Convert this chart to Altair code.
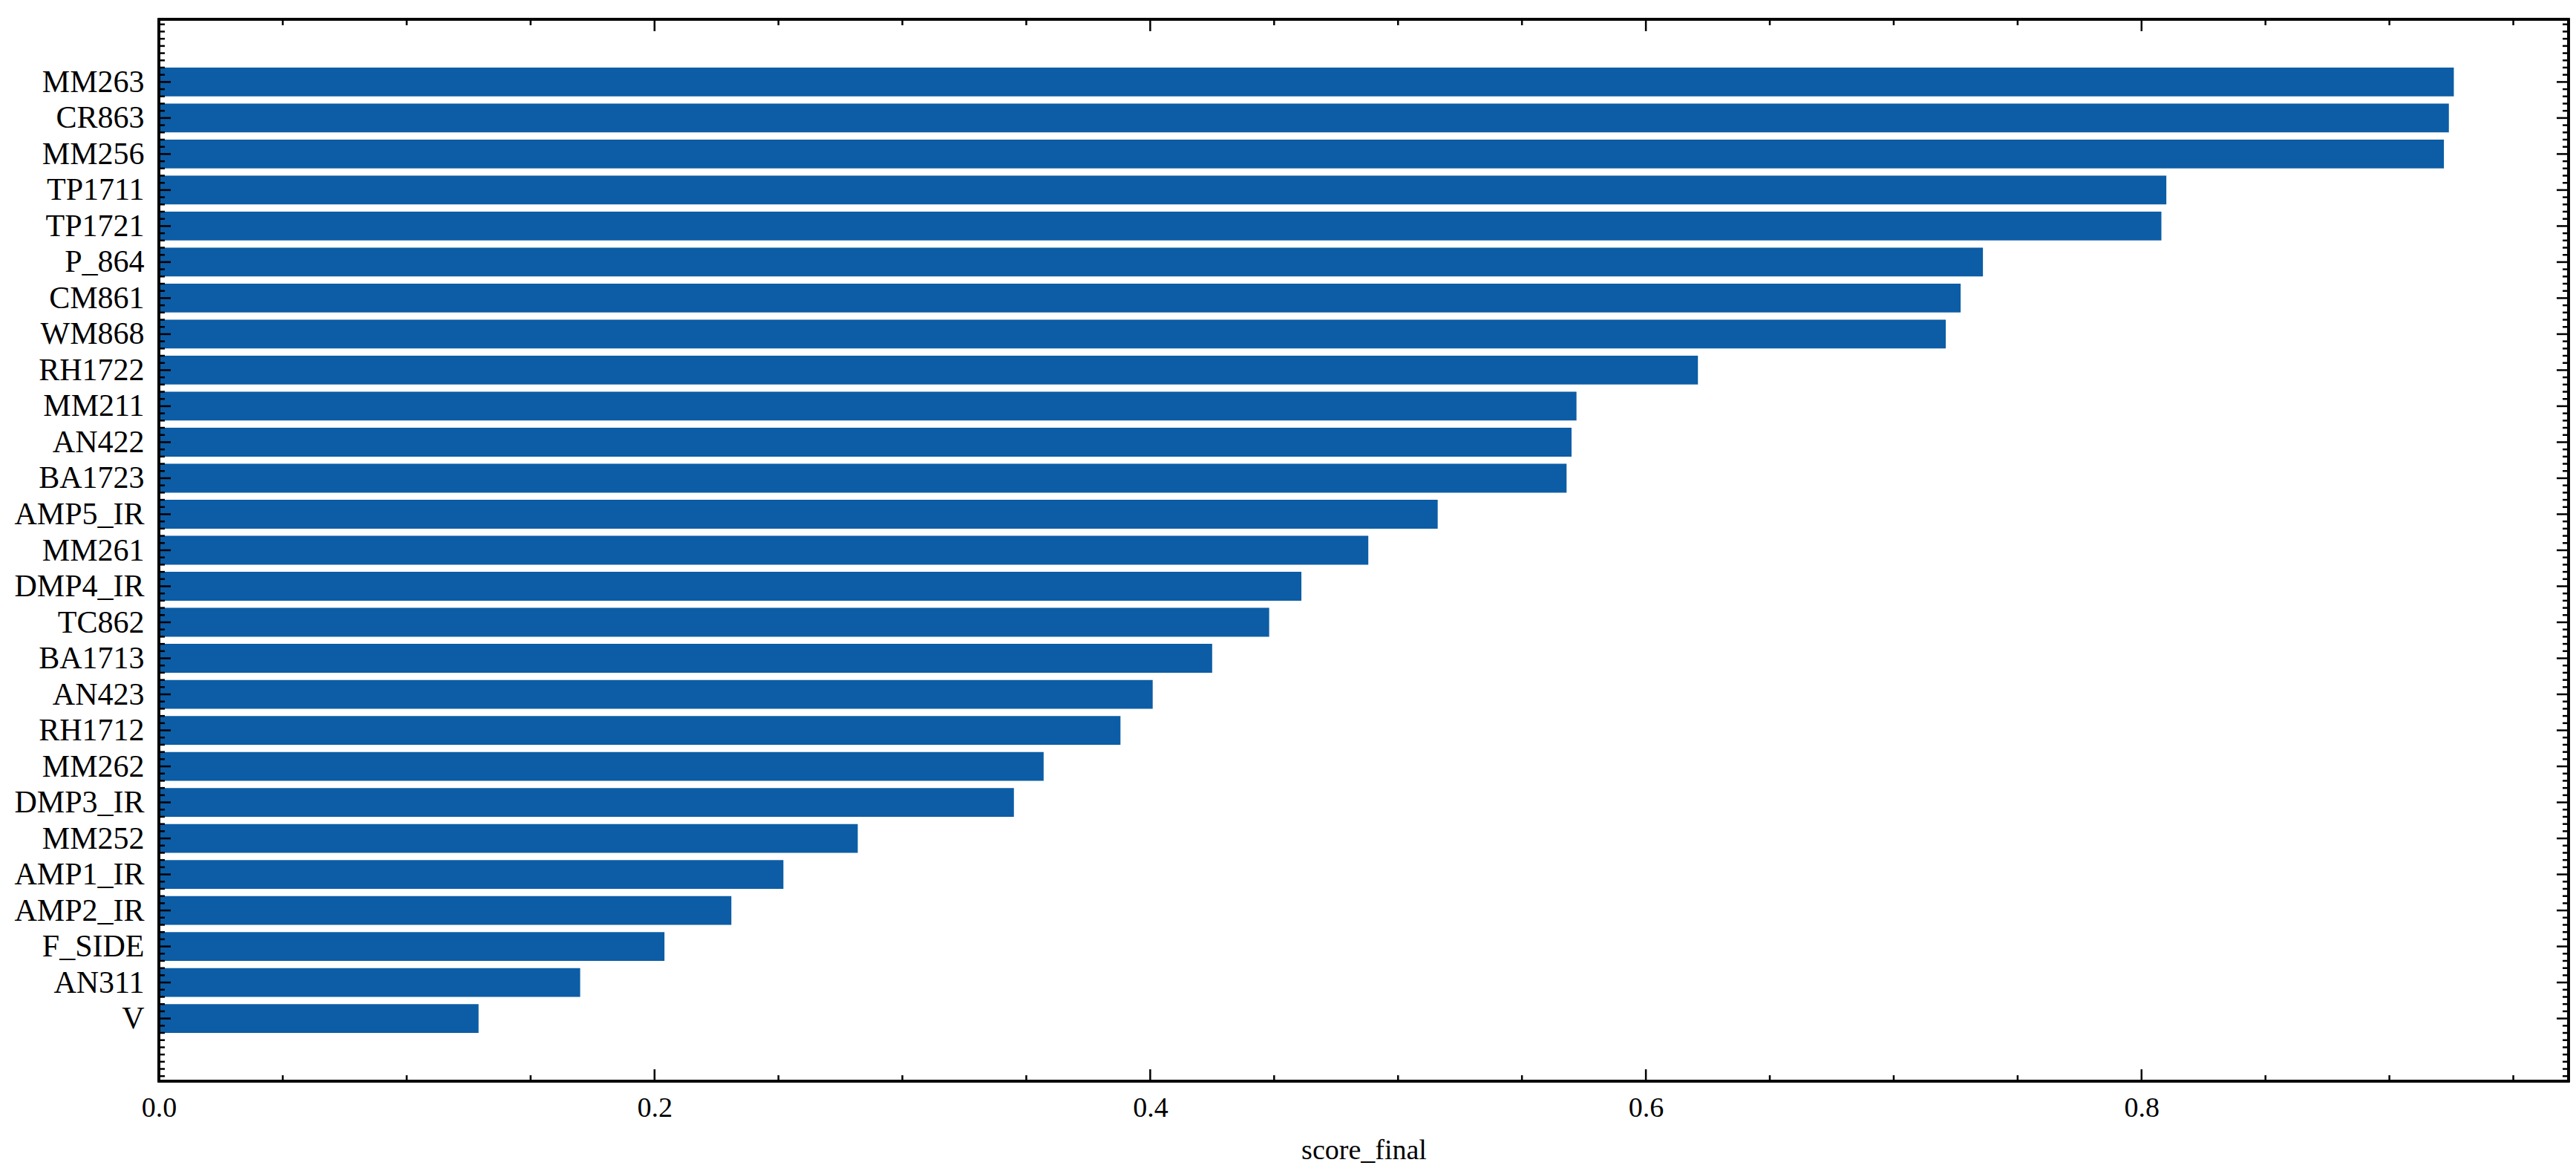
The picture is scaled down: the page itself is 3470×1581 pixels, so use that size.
import json
import altair as alt
import pandas as pd

# ---- data (top to bottom as shown) ----
names = ["MM263", "CR863", "MM256", "TP1711", "TP1721", "P_864", "CM861", "WM868",
         "RH1722", "MM211", "AN422", "BA1723", "AMP5_IR", "MM261", "DMP4_IR", "TC862",
         "BA1713", "AN423", "RH1712", "MM262", "DMP3_IR", "MM252", "AMP1_IR", "AMP2_IR",
         "F_SIDE", "AN311", "V"]
scores = [0.926, 0.924, 0.922, 0.810, 0.808, 0.736, 0.727, 0.721,
          0.621, 0.572, 0.570, 0.568, 0.516, 0.488, 0.461, 0.448,
          0.425, 0.401, 0.388, 0.357, 0.345, 0.282, 0.252, 0.231,
          0.204, 0.170, 0.129]
x_major = [0.0, 0.2, 0.4, 0.6, 0.8]

n = len(names)
df = pd.DataFrame({"name": names, "score": scores, "pos": [n - 1 - i for i in range(n)]})

# matplotlib-like limits
x_max = max(scores) * 1.05
span = (n - 1) + 0.8
y_lo = -0.4 - 0.05 * span
y_hi = (n - 1) + 0.4 + 0.05 * span

x_minor = [round(k * 0.05, 2) for k in range(1, 20) if k % 4 != 0]
y_major = list(range(n))
y_minor = []
k = int(y_lo / 0.2) - 1
while k * 0.2 <= y_hi:
    v = round(k * 0.2, 3)
    if y_lo <= v <= y_hi and not (abs(v - round(v)) < 1e-9 and 0 <= round(v) <= n - 1):
        y_minor.append(v)
    k += 1

W, H = 3246, 1430
FONT = "Liberation Serif"
BLUE = "#0C5DA5"
MAJ, MIN = 16, 8
TW = 2.5

label_arr = json.dumps([names[n - 1 - i] for i in range(n)])

xscale = alt.Scale(domain=[0, x_max], nice=False, zero=False)
yscale = alt.Scale(domain=[y_lo, y_hi], nice=False, zero=False)

xaxis = alt.Axis(values=x_major, format=".1f", labelFont=FONT, labelFontSize=38,
                 labelColor="black", labelPadding=17, labelFlush=False, ticks=False,
                 tickSize=0, domain=False, grid=False, title="score_final",
                 titleFont=FONT, titleFontSize=38, titleFontWeight="normal",
                 titleColor="black", titlePadding=19)
yaxis = alt.Axis(values=y_major, labelExpr=f"{label_arr}[datum.value]", labelFont=FONT,
                 labelFontSize=42, labelColor="black", labelPadding=20, labelOverlap=False,
                 labelFlush=False, ticks=False, tickSize=0, domain=False, grid=False,
                 title=None)

bars = alt.Chart(df).transform_calculate(
    lo="datum.pos - 0.4", hi="datum.pos + 0.4", x0="0"
).mark_rect(color=BLUE).encode(
    x=alt.X("x0:Q", scale=xscale, axis=xaxis),
    x2="score:Q",
    y=alt.Y("lo:Q", scale=yscale, axis=yaxis),
    y2="hi:Q",
)

xmaj = pd.DataFrame({"v": x_major})
xmin = pd.DataFrame({"v": x_minor})
ymaj = pd.DataFrame({"v": y_major})
ymin = pd.DataFrame({"v": y_minor})


def xticks(d, length):
    b = alt.Chart(d).mark_rule(color="black", strokeWidth=TW).encode(
        x=alt.X("v:Q", scale=xscale, axis=xaxis), y=alt.value(H), y2=alt.value(H - length))
    t = alt.Chart(d).mark_rule(color="black", strokeWidth=TW).encode(
        x=alt.X("v:Q", scale=xscale, axis=xaxis), y=alt.value(0), y2=alt.value(length))
    return [b, t]


def yticks(d, length):
    l = alt.Chart(d).mark_rule(color="black", strokeWidth=TW).encode(
        y=alt.Y("v:Q", scale=yscale, axis=yaxis), x=alt.value(0), x2=alt.value(length))
    r = alt.Chart(d).mark_rule(color="black", strokeWidth=TW).encode(
        y=alt.Y("v:Q", scale=yscale, axis=yaxis), x=alt.value(W - length), x2=alt.value(W))
    return [l, r]


frame = alt.Chart(xmaj).mark_rect(fillOpacity=0, stroke="black", strokeWidth=3).encode(
    x=alt.value(0), x2=alt.value(W), y=alt.value(0), y2=alt.value(H))

layers = [bars] + xticks(xmaj, MAJ) + xticks(xmin, MIN) + yticks(ymaj, MAJ) + yticks(ymin, MIN) + [frame]

chart = alt.layer(*layers).properties(
    width=W, height=H,
    padding={"left": 10, "top": 16, "right": 0, "bottom": 2},
    background="white",
).configure_view(stroke=None)

chart.save("out.html", embed_options={"renderer": "svg", "actions": False})
